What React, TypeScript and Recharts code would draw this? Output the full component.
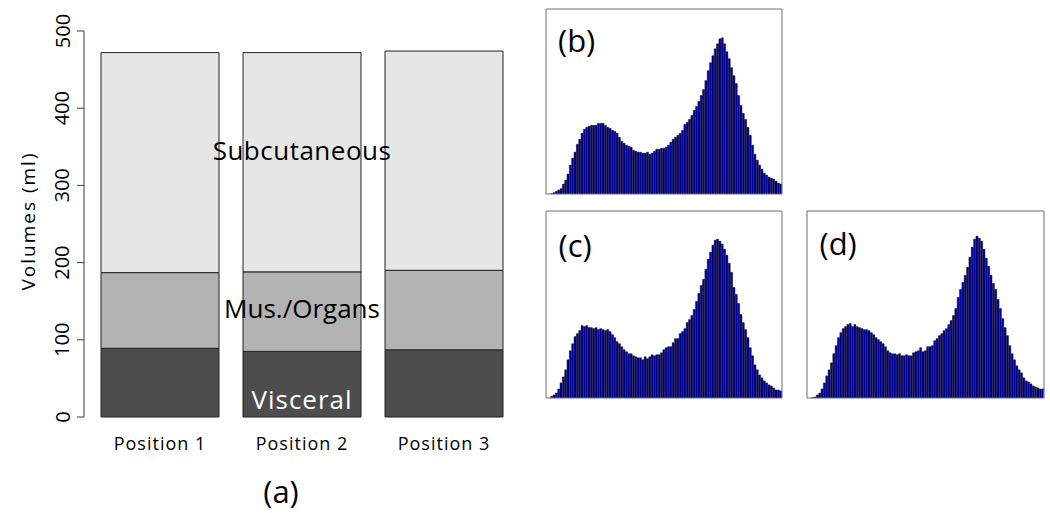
import React from 'react';
import { BarChart, Bar, XAxis, YAxis, ReferenceDot } from 'recharts';

const FONT = "'Open Sans', 'DejaVu Sans', sans-serif";

// ---- panel (a): stacked volumes ----
const positions = ['Position 1', 'Position 2', 'Position 3'];
const visceral = [89, 85, 87];
const musOrgans = [98, 103, 103];
const subcutaneous = [285, 284, 284];
const volumeTicks = [0, 100, 200, 300, 400, 500];

// ---- panels (b), (c), (d): histograms (bar heights, arbitrary units) ----
const histB = [
  0, 0, 0.3, 1.3, 2.7, 4, 5.3, 10, 14, 20,
  29, 36, 42, 50, 55, 61, 65, 67, 68, 69,
  69, 69, 71, 71, 71, 69, 67, 66, 64, 63,
  61, 57, 53, 51, 49, 48, 47, 44, 43, 42,
  42, 41, 41, 42, 40, 41, 43, 45, 45, 46,
  46, 47, 49, 52, 55, 57, 59, 61, 64, 70,
  72, 75, 79, 84, 88, 93, 99, 105, 114, 124,
  132, 139, 146, 151, 156, 157, 151, 143, 136, 127,
  119, 111, 99, 89, 81, 75, 67, 59, 49, 40,
  34, 29, 25, 21, 19, 17, 16, 15, 13, 11, 10,
];
const histC = [
  0, 0, 1.5, 3, 5, 9, 15, 21, 28, 38,
  47, 54, 61, 64, 67, 72, 71, 72, 70, 70,
  69, 70, 68, 69, 68, 67, 68, 66, 63, 60,
  56, 54, 51, 48, 46, 44, 44, 42, 41, 40,
  40, 38, 41, 39, 41, 43, 42, 43, 43, 45,
  48, 50, 51, 51, 55, 59, 59, 64, 66, 69,
  75, 78, 82, 88, 96, 104, 112, 118, 128, 138,
  145, 152, 157, 158, 156, 153, 148, 142, 134, 125,
  110, 103, 94, 83, 75, 68, 60, 50, 42, 33,
  28, 23, 20, 17, 15, 13, 12, 10, 8, 8, 7,
];
const histD = [
  0, 0, 0.5, 1, 3, 5, 9, 15, 22, 28,
  35, 44, 52, 60, 65, 69, 71, 73, 74, 71,
  73, 71, 70, 69, 68, 68, 67, 65, 63, 60,
  58, 56, 54, 51, 47, 45, 44, 44, 43, 44,
  42, 42, 43, 42, 42, 45, 46, 47, 50, 46,
  47, 51, 51, 52, 57, 59, 62, 64, 67, 69,
  73, 77, 82, 89, 100, 108, 115, 122, 130, 140,
  150, 158, 161, 159, 156, 148, 139, 131, 122, 114,
  108, 98, 89, 79, 70, 62, 52, 44, 38, 32,
  28, 25, 20, 17, 16, 14, 12, 11, 10, 9, 9,
];
const histYDomain = [0, 186];
const histYTicks = [31, 62, 93, 124, 155];
const histXDomain = [0, 10];
const histXTicks = [1, 2, 3, 4, 5, 6, 7, 8, 9];

const stackRows = positions.map((p, i) => ({
  position: p,
  visceral: visceral[i],
  musOrgans: musOrgans[i],
  subcutaneous: subcutaneous[i],
}));

const AX = '#3a3a3a';
const BOX = '#6e6e6e';

const VolTick = (props: any) => {
  const { x, y, payload } = props;
  const cx = x - 13;
  return (
    <text
      x={cx}
      y={y}
      transform={`rotate(-90, ${cx}, ${y})`}
      textAnchor="middle"
      dominantBaseline="central"
      fontSize={20}
      fontFamily={FONT}
      fill="#000"
    >
      {payload.value}
    </text>
  );
};

const PosTick = (props: any) => {
  const { x, y, payload } = props;
  return (
    <text
      x={x}
      y={y + 26}
      textAnchor="middle"
      dominantBaseline="central"
      fontSize={18}
      letterSpacing={1}
      fontFamily={FONT}
      fill="#000"
    >
      {payload.value}
    </text>
  );
};

const VolLabel = (props: any) => {
  const vb = props.viewBox || { x: 0, y: 31, width: 84, height: 386 };
  const cx = vb.x + 28;
  const cy = vb.y + vb.height / 2 - 3;
  return (
    <text
      x={cx}
      y={cy}
      transform={`rotate(-90, ${cx}, ${cy})`}
      textAnchor="middle"
      dominantBaseline="central"
      fontSize={19}
      letterSpacing={2}
      fontFamily={FONT}
      fill="#000"
    >
      Volumes (ml)
    </text>
  );
};

function Hist({ values, width, height }: { values: number[]; width: number; height: number }) {
  const rows = values.map((v, i) => ({ bin: i + 1, count: v }));
  return (
    <BarChart
      width={width + 2}
      height={height + 2}
      data={rows}
      margin={{ top: 1, right: 1, bottom: 1, left: 1 }}
      barCategoryGap={0}
      barGap={0}
    >
      <XAxis dataKey="bin" mirror height={20} tick={false} tickLine={false} axisLine={{ stroke: BOX }} />
      <XAxis
        xAxisId="top"
        type="number"
        orientation="top"
        domain={histXDomain}
        ticks={histXTicks}
        allowDataOverflow
        mirror
        height={20}
        tick={false}
        tickSize={3}
        tickLine={{ stroke: BOX }}
        axisLine={{ stroke: BOX }}
      />
      <YAxis
        domain={histYDomain}
        ticks={histYTicks}
        allowDataOverflow
        mirror
        width={20}
        tick={false}
        tickSize={3}
        tickLine={{ stroke: BOX }}
        axisLine={{ stroke: BOX }}
      />
      <YAxis
        yAxisId="right"
        orientation="right"
        domain={histYDomain}
        ticks={histYTicks}
        allowDataOverflow
        mirror
        width={20}
        tick={false}
        tickSize={3}
        tickLine={{ stroke: BOX }}
        axisLine={{ stroke: BOX }}
      />
      <Bar dataKey="count" fill="#00009a" stroke="#000018" strokeWidth={0.45} isAnimationActive={false} />
    </BarChart>
  );
}

export default function App() {
  return (
    <div
      style={{
        position: 'absolute',
        left: 0,
        top: 0,
        width: 1050,
        height: 513,
        background: '#fff',
        fontFamily: FONT,
        overflow: 'hidden',
      }}
    >
      <div style={{ position: 'absolute', left: 0, top: 0 }}>
        <BarChart
          width={540}
          height={513}
          data={stackRows}
          margin={{ top: 31, right: 20, bottom: 36, left: 0 }}
          barSize={118}
        >
          <XAxis
            dataKey="position"
            height={60}
            axisLine={false}
            tickLine={false}
            tickSize={0}
            tickMargin={0}
            padding={{ left: 5, right: 5 }}
            interval={0}
            tick={<PosTick />}
          />
          <YAxis
            domain={[0, 500]}
            ticks={volumeTicks}
            interval={0}
            width={84}
            tickSize={7}
            tickMargin={2}
            tickLine={{ stroke: AX }}
            axisLine={{ stroke: AX }}
            tick={<VolTick />}
            label={{ content: <VolLabel /> }}
          />
          <Bar dataKey="visceral" stackId="s" fill="#4d4d4d" stroke="#222" strokeWidth={1} isAnimationActive={false} />
          <Bar dataKey="musOrgans" stackId="s" fill="#b3b3b3" stroke="#222" strokeWidth={1} isAnimationActive={false} />
          <Bar dataKey="subcutaneous" stackId="s" fill="#e6e6e6" stroke="#222" strokeWidth={1} isAnimationActive={false} />
          <ReferenceDot
            x="Position 2"
            y={345}
            r={0}
            label={{ value: 'Subcutaneous', position: 'center', fill: '#000', fontSize: 26, letterSpacing: 0.5, fontFamily: FONT }}
          />
          <ReferenceDot
            x="Position 2"
            y={140}
            r={0}
            label={{ value: 'Mus./Organs', position: 'center', fill: '#000', fontSize: 26, fontFamily: FONT }}
          />
          <ReferenceDot
            x="Position 2"
            y={22}
            r={0}
            label={{ value: 'Visceral', position: 'center', fill: '#fff', fontSize: 26, letterSpacing: 1, fontFamily: FONT }}
          />
        </BarChart>
      </div>

      <div style={{ position: 'absolute', left: 545, top: 8 }}>
        <Hist values={histB} width={236} height={185} />
      </div>
      <div style={{ position: 'absolute', left: 545, top: 210 }}>
        <Hist values={histC} width={236} height={187} />
      </div>
      <div style={{ position: 'absolute', left: 806, top: 210 }}>
        <Hist values={histD} width={237} height={187} />
      </div>

      <svg
        width={1050}
        height={513}
        style={{ position: 'absolute', left: 0, top: 0, pointerEvents: 'none' }}
      >
        <text x={281} y={503} textAnchor="middle" fontSize={31} fontFamily={FONT} fill="#000">(a)</text>
        <text x={558} y={52} fontSize={31} fontFamily={FONT} fill="#000">(b)</text>
        <text x={558.5} y={256.5} fontSize={31} fontFamily={FONT} fill="#000">(c)</text>
        <text x={819.5} y={255} fontSize={31} fontFamily={FONT} fill="#000">(d)</text>
      </svg>
    </div>
  );
}
